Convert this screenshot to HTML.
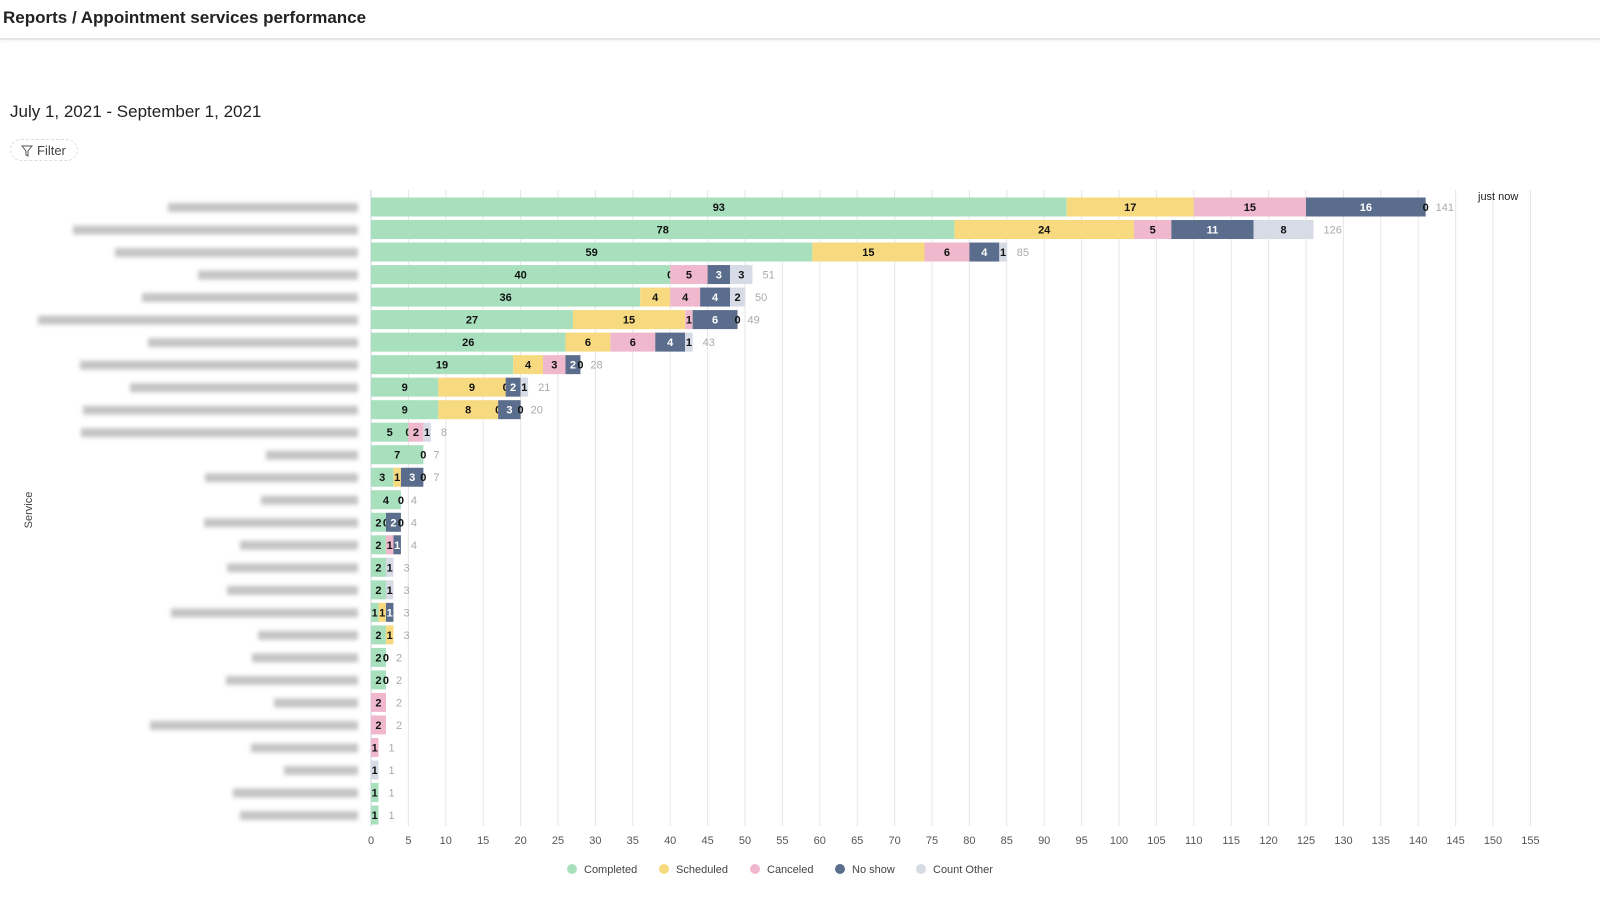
<!DOCTYPE html>
<html><head><meta charset="utf-8"><style>
body{margin:0;width:1600px;height:904px;background:#fff;font-family:"Liberation Sans",sans-serif;overflow:hidden;position:relative}
.hdr{position:absolute;left:0;top:0;width:1600px;height:38px;border-bottom:2px solid #e6e6e6;box-shadow:0 1px 3px rgba(0,0,0,.06)}
.hdr h1{margin:0;position:absolute;left:3px;top:8px;font-size:17px;font-weight:bold;color:#222}
.date{position:absolute;left:10px;top:102px;font-size:17px;color:#222}
.filter{position:absolute;left:10px;top:139px;width:68px;height:22px;border:1px dashed #ddd;border-radius:12px;font-size:13px;color:#444;line-height:22px;box-sizing:border-box;padding-left:26px}
</style></head><body>
<div class="hdr"><h1>Reports / Appointment services performance</h1></div>
<div class="date">July 1, 2021 - September 1, 2021</div>
<div class="filter"><svg style="position:absolute;left:10px;top:5px" width="12" height="12" viewBox="0 0 12 12"><path d="M1 1h10L7 6v5L5 10V6z" fill="none" stroke="#555" stroke-width="1"/></svg>Filter</div>
<svg id="chart" width="1600" height="904" style="position:absolute;left:0;top:0"></svg>
<script>
const categories=["s1","s2","s3","s4","s5","s6","s7","s8","s9","s10","s11","s12","s13","s14","s15","s16","s17","s18","s19","s20","s21","s22","s23","s24","s25","s26","s27","s28"];
const completed=[93,78,59,40,36,27,26,19,9,9,5,7,3,4,2,2,2,2,1,2,2,2,null,null,null,null,1,1];
const scheduled=[17,24,15,0,4,15,6,4,9,8,0,null,1,null,0,null,null,null,1,1,null,null,null,null,null,null,null,null];
const canceled=[15,5,6,5,4,1,6,3,0,0,2,null,null,null,null,1,null,null,null,null,null,null,2,2,1,null,null,null];
const noShow=[16,11,4,3,4,6,4,2,2,3,null,null,3,null,2,1,null,null,1,null,null,null,null,null,null,null,null,null];
const other=[0,8,1,3,2,0,1,0,1,0,1,0,0,0,0,null,1,1,null,null,0,0,null,null,null,1,null,null];
const labelWidths=[190,285,243,160,216,320,210,278,228,275,277,92,153,97,154,118,131,131,187,100,106,132,84,208,107,74,125,118];
const ticks=[0,5,10,15,20,25,30,35,40,45,50,55,60,65,70,75,80,85,90,95,100,105,110,115,120,125,130,135,140,145,150,155];
const seriesNames=["Completed","Scheduled","Canceled","No show","Count Other"];
const colors=["#a8e0bd","#f7da7f","#f0b8cd","#5b6d8c","#d7dbe6"];
const series=[completed,scheduled,canceled,noShow,other];
const NS="http://www.w3.org/2000/svg";
const svg=document.getElementById('chart');
const x0=371,k=7.48,y0=207,step=22.52,bh=19;
const X=v=>x0+v*k, Y=i=>y0+i*step;
function el(t,a,p){const e=document.createElementNS(NS,t);for(const q in a)e.setAttribute(q,a[q]);(p||svg).appendChild(e);return e;}
const fontF='"Liberation Sans",sans-serif';
ticks.forEach(t=>{
 const g=el('line',{x1:X(t),x2:X(t),y1:190,y2:826,stroke:t===0?'#ccd':'#e6e6e6','stroke-width':1});
 
 
 const tx=el('text',{x:X(t),y:844,'text-anchor':'middle','font-size':11,fill:'#555','font-family':fontF});
 tx.textContent=t;
 
 
});
const defs=el('defs',{});
const f=el('filter',{id:'bl',x:'-10%',y:'-50%',width:'120%',height:'200%'},defs);
el('feGaussianBlur',{stdDeviation:2.2},f);
categories.forEach((c,i)=>{
 const cy=Y(i);
 const r=el('rect',{x:358-labelWidths[i],y:cy-4,width:labelWidths[i],height:9,fill:'#c4c4c4',filter:'url(#bl)'});
 
 
 let acc=0;
 series.forEach((s,j)=>{
  const v=s[i]; if(v===null||v===undefined) return;
  if(v>0){
   const b=el('rect',{x:X(acc),y:cy-bh/2,width:v*k,height:bh,fill:colors[j]});
   
   
  }
  const t=el('text',{x:X(acc+v/2),y:cy+4,'text-anchor':'middle','font-size':11,'font-weight':'bold',fill:j===3?'#fff':'#111','font-family':fontF});
  t.textContent=v;
  
  
  acc+=v;
 });
 const tot=el('text',{x:X(acc)+10,y:cy+4,'font-size':11,fill:'#aaa','font-family':fontF});
 tot.textContent=acc;
 
 
});
const yt=el('text',{x:0,y:0,'font-size':11,fill:'#444','font-family':fontF,'text-anchor':'middle',transform:'translate(32,510) rotate(-90)'});
yt.textContent='Service';


const jn=el('text',{x:1478,y:200,'font-size':11,fill:'#222','font-family':fontF});
jn.textContent='just now';


const lx=[566,658,749,834,915];
seriesNames.forEach((n,j)=>{
 const c=el('circle',{cx:lx[j]+6,cy:869,r:5,fill:colors[j]});
 
 
 const t=el('text',{x:lx[j]+18,y:873,'font-size':11,fill:'#444','font-family':fontF});
 t.textContent=n;
 
 
});
</script>
</body></html>
